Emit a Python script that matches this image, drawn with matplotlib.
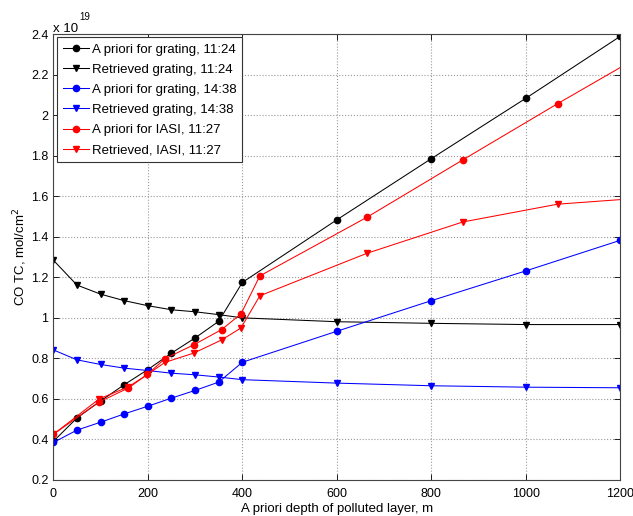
import numpy as np
import matplotlib
matplotlib.use('Agg')
import matplotlib.pyplot as plt

plt.rcParams['font.family'] = ['Liberation Sans', 'DejaVu Sans']

# depths (m) and CO total column (units of 1e19 mol/cm^2)
depth_grating = [0, 50, 100, 150, 200, 250, 300, 350, 400, 600, 800, 1000, 1200]
apriori_1124 = [0.39, 0.506, 0.59, 0.67, 0.745, 0.826, 0.901, 0.983, 1.175, 1.484, 1.786, 2.084, 2.39]
retrieved_1124 = [1.285, 1.162, 1.117, 1.085, 1.06, 1.04, 1.03, 1.016, 1.0, 0.981, 0.973, 0.967, 0.967]
apriori_1438 = [0.385, 0.446, 0.485, 0.526, 0.564, 0.604, 0.642, 0.683, 0.781, 0.934, 1.085, 1.232, 1.383]
retrieved_1438 = [0.842, 0.793, 0.77, 0.752, 0.74, 0.727, 0.719, 0.708, 0.695, 0.678, 0.665, 0.658, 0.655]

depth_iasi = [0, 97, 159, 199, 236, 298, 356, 397, 437, 664, 866, 1067, 1267]
apriori_iasi = [0.425, 0.585, 0.654, 0.721, 0.798, 0.868, 0.942, 1.019, 1.207, 1.497, 1.779, 2.057, 2.326]
retrieved_iasi = [0.425, 0.60, 0.66, 0.72, 0.78, 0.827, 0.891, 0.95, 1.109, 1.319, 1.473, 1.561, 1.595]

fig = plt.figure(figsize=(6.33, 5.16), dpi=100)
ax = fig.add_axes([0.0842, 0.0698, 0.896, 0.864])

lw = 0.75
ms = 4.5
ax.plot(depth_grating, apriori_1124, color='k', marker='o', lw=lw, ms=ms, label='A priori for grating, 11:24')
ax.plot(depth_grating, retrieved_1124, color='k', marker='v', lw=lw, ms=ms, label='Retrieved grating, 11:24')
ax.plot(depth_grating, apriori_1438, color='b', marker='o', lw=lw, ms=ms, label='A priori for grating, 14:38')
ax.plot(depth_grating, retrieved_1438, color='b', marker='v', lw=lw, ms=ms, label='Retrieved grating, 14:38')
ax.plot(depth_iasi, apriori_iasi, color='r', marker='o', lw=lw, ms=ms, label='A priori for IASI, 11:27')
ax.plot(depth_iasi, retrieved_iasi, color='r', marker='v', lw=lw, ms=ms, label='Retrieved, IASI, 11:27')

ax.set_xlim(0, 1200)
ax.set_ylim(0.2, 2.4)
ax.set_xticks(np.arange(0, 1201, 200))
ax.set_yticks(np.arange(0.2, 2.41, 0.2))
ax.set_yticklabels(['0.2', '0.4', '0.6', '0.8', '1', '1.2', '1.4', '1.6', '1.8', '2', '2.2', '2.4'])
ax.tick_params(direction='in', labelsize=9, top=True, right=True, length=4, width=0.6)
ax.tick_params(axis='x', pad=6)
ax.grid(True, linestyle=':', color='#999999', lw=0.8)
for s in ax.spines.values():
    s.set_linewidth(0.8)
    s.set_color('#444444')

ax.set_xlabel('A priori depth of polluted layer, m', fontsize=9.5)
ax.set_ylabel('CO TC, mol/cm$^2$', fontsize=9.5)
ax.xaxis.set_label_coords(0.5, -0.052)
ax.yaxis.set_label_coords(-0.043, 0.5)

ax.text(0.0, 1.004, 'x 10', transform=ax.transAxes, fontsize=9.5, ha='left', va='baseline')
ax.text(0.045, 1.031, '19', transform=ax.transAxes, fontsize=7, ha='left', va='baseline')

leg = ax.legend(loc='upper left', fontsize=9.5, handlelength=2.0, handletextpad=0.2,
                borderpad=0.45, labelspacing=0.6, fancybox=False, framealpha=1,
                borderaxespad=0.25)
leg.get_frame().set_edgecolor('#333333')
leg.get_frame().set_linewidth(0.8)

fig.savefig('out.png', dpi=100)
